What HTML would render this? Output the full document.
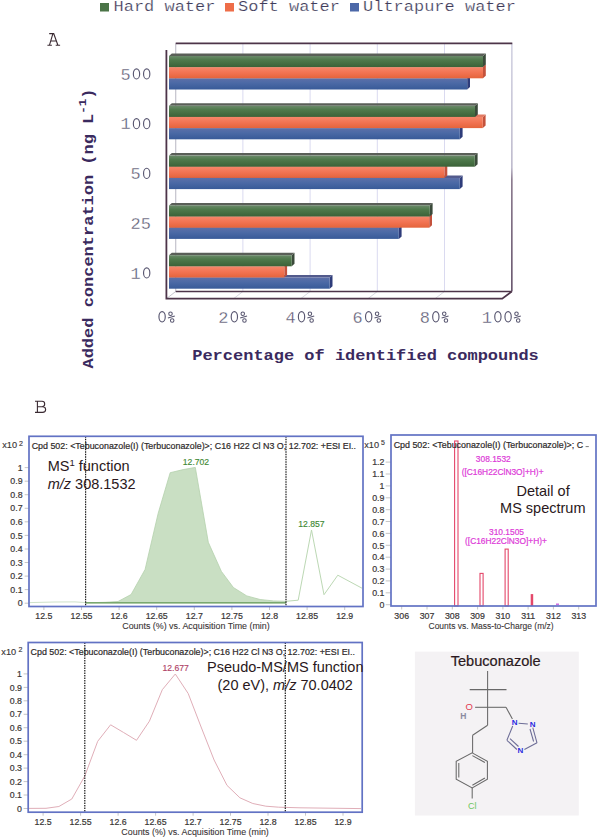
<!DOCTYPE html><html><head><meta charset="utf-8"><style>html,body{margin:0;padding:0;background:#fff;width:598px;height:837px;overflow:hidden}svg{display:block}</style></head><body>
<svg width="598" height="837" viewBox="0 0 598 837">
<defs>
<linearGradient id="gG" x1="0" y1="0" x2="0" y2="1"><stop offset="0" stop-color="#6b8a6a"/><stop offset="0.35" stop-color="#4f7a4c"/><stop offset="1" stop-color="#3b6238"/></linearGradient>
<linearGradient id="gO" x1="0" y1="0" x2="0" y2="1"><stop offset="0" stop-color="#f5876a"/><stop offset="0.5" stop-color="#f27352"/><stop offset="1" stop-color="#e4643c"/></linearGradient>
<linearGradient id="gB" x1="0" y1="0" x2="0" y2="1"><stop offset="0" stop-color="#5d6fa8"/><stop offset="0.4" stop-color="#4c6aa6"/><stop offset="1" stop-color="#385a98"/></linearGradient>
<linearGradient id="gR" x1="0" y1="0" x2="0" y2="1"><stop offset="0" stop-color="#cfcfe0"/><stop offset="0.5" stop-color="#b8b4c8"/><stop offset="0.55" stop-color="#806e84"/><stop offset="1" stop-color="#5a4660"/></linearGradient>
</defs>
<rect x="100" y="3" width="9" height="8.5" fill="#4b7447"/>
<rect x="225" y="3" width="9" height="8.5" fill="#ee6d48"/>
<rect x="350" y="3" width="9" height="8.5" fill="#4c68a8"/>
<text transform="translate(113.5,11.2) scale(1,0.88)" font-family="Liberation Mono, monospace" font-size="17" font-weight="normal" fill="#403c5a" text-anchor="start" stroke="#fff" stroke-width="0.25">Hard water</text>
<text transform="translate(238,11.2) scale(1,0.88)" font-family="Liberation Mono, monospace" font-size="17" font-weight="normal" fill="#403c5a" text-anchor="start" stroke="#fff" stroke-width="0.25">Soft water</text>
<text transform="translate(363,11.2) scale(1,0.88)" font-family="Liberation Mono, monospace" font-size="17" font-weight="normal" fill="#403c5a" text-anchor="start" stroke="#fff" stroke-width="0.25">Ultrapure water</text>
<path d="M49.2,33.6 H53.9 M52.9,33.6 L49.4,45.3 M53.6,33.2 L57.9,45.3 M50.6,41 H56.9 M47.4,45.3 H51.9 M55.7,45.3 H60.1" fill="none" stroke="#3a2a32" stroke-width="1.1"/>
<line x1="242.9" y1="43.4" x2="242.9" y2="291.5" stroke="#dadaf0" stroke-width="1"/>
<line x1="233.6" y1="298.7" x2="242.9" y2="291.5" stroke="#d8d8e0" stroke-width="1"/>
<line x1="310.1" y1="43.4" x2="310.1" y2="291.5" stroke="#dadaf0" stroke-width="1"/>
<line x1="300.7" y1="298.7" x2="310.1" y2="291.5" stroke="#d8d8e0" stroke-width="1"/>
<line x1="377.3" y1="43.4" x2="377.3" y2="291.5" stroke="#dadaf0" stroke-width="1"/>
<line x1="367.9" y1="298.7" x2="377.3" y2="291.5" stroke="#d8d8e0" stroke-width="1"/>
<line x1="444.5" y1="43.4" x2="444.5" y2="291.5" stroke="#dadaf0" stroke-width="1"/>
<line x1="435.0" y1="298.7" x2="444.5" y2="291.5" stroke="#d8d8e0" stroke-width="1"/>
<line x1="175.70000000000002" y1="43.4" x2="175.70000000000002" y2="291.5" stroke="#c4c2cc" stroke-width="1.2"/>
<line x1="166.4" y1="298.7" x2="175.70000000000002" y2="291.5" stroke="#c8c8d0" stroke-width="1"/>
<rect x="511.09999999999997" y="43.4" width="1.5" height="248.1" fill="url(#gR)"/>
<line x1="175.70000000000002" y1="43.4" x2="512.3" y2="43.4" stroke="#4d3449" stroke-width="1.6"/>
<line x1="175.70000000000002" y1="291.5" x2="511.7" y2="291.5" stroke="#4d3449" stroke-width="1.6"/>
<polyline points="166.4,50 166.4,298.7 502.2,298.7 511.7,291.5" fill="none" stroke="#4d3449" stroke-width="1.8"/>
<polygon points="467.2,78.3 470.0,75.8 470.0,87.0 467.2,89.5" fill="#2e3c7a"/>
<polygon points="169,78.3 171.8,75.8 470.0,75.8 467.2,78.3" fill="#525a8c"/>
<rect x="169" y="78.3" width="298.2" height="11.200000000000003" fill="url(#gB)"/>
<polygon points="483,67.1 485.8,64.6 485.8,75.8 483,78.3" fill="#c4523c"/>
<polygon points="169,67.1 171.8,64.6 485.8,64.6 483,67.1" fill="#e27a62"/>
<rect x="169" y="67.1" width="314" height="11.200000000000003" fill="url(#gO)"/>
<polygon points="483,56.0 485.8,53.5 485.8,64.6 483,67.1" fill="#3a4a3a"/>
<polygon points="169,56.0 171.8,53.5 485.8,53.5 483,56.0" fill="#5a5f58"/>
<rect x="169" y="56.0" width="314" height="11.099999999999994" fill="url(#gG)"/>
<polygon points="459.8,128.1 462.6,125.6 462.6,136.8 459.8,139.3" fill="#2e3c7a"/>
<polygon points="169,128.1 171.8,125.6 462.6,125.6 459.8,128.1" fill="#525a8c"/>
<rect x="169" y="128.1" width="290.8" height="11.200000000000017" fill="url(#gB)"/>
<polygon points="482.8,116.89999999999999 485.6,114.39999999999999 485.6,125.6 482.8,128.1" fill="#c4523c"/>
<polygon points="169,116.89999999999999 171.8,114.39999999999999 485.6,114.39999999999999 482.8,116.89999999999999" fill="#e27a62"/>
<rect x="169" y="116.89999999999999" width="313.8" height="11.200000000000003" fill="url(#gO)"/>
<polygon points="475,105.8 477.8,103.3 477.8,114.39999999999999 475,116.89999999999999" fill="#3a4a3a"/>
<polygon points="169,105.8 171.8,103.3 477.8,103.3 475,105.8" fill="#5a5f58"/>
<rect x="169" y="105.8" width="306" height="11.099999999999994" fill="url(#gG)"/>
<polygon points="459.8,177.9 462.6,175.4 462.6,186.6 459.8,189.1" fill="#2e3c7a"/>
<polygon points="169,177.9 171.8,175.4 462.6,175.4 459.8,177.9" fill="#525a8c"/>
<rect x="169" y="177.9" width="290.8" height="11.199999999999989" fill="url(#gB)"/>
<polygon points="444.5,166.7 447.3,164.2 447.3,175.4 444.5,177.9" fill="#c4523c"/>
<polygon points="169,166.7 171.8,164.2 447.3,164.2 444.5,166.7" fill="#e27a62"/>
<rect x="169" y="166.7" width="275.5" height="11.200000000000017" fill="url(#gO)"/>
<polygon points="474.8,155.6 477.6,153.1 477.6,164.2 474.8,166.7" fill="#3a4a3a"/>
<polygon points="169,155.6 171.8,153.1 477.6,153.1 474.8,155.6" fill="#5a5f58"/>
<rect x="169" y="155.6" width="305.8" height="11.099999999999994" fill="url(#gG)"/>
<polygon points="398.8,227.7 401.6,225.2 401.6,236.39999999999998 398.8,238.89999999999998" fill="#2e3c7a"/>
<polygon points="169,227.7 171.8,225.2 401.6,225.2 398.8,227.7" fill="#525a8c"/>
<rect x="169" y="227.7" width="229.8" height="11.199999999999989" fill="url(#gB)"/>
<polygon points="429.2,216.49999999999997 432.0,213.99999999999997 432.0,225.2 429.2,227.7" fill="#c4523c"/>
<polygon points="169,216.49999999999997 171.8,213.99999999999997 432.0,213.99999999999997 429.2,216.49999999999997" fill="#e27a62"/>
<rect x="169" y="216.49999999999997" width="260.2" height="11.200000000000017" fill="url(#gO)"/>
<polygon points="429.8,205.39999999999998 432.6,202.89999999999998 432.6,213.99999999999997 429.8,216.49999999999997" fill="#3a4a3a"/>
<polygon points="169,205.39999999999998 171.8,202.89999999999998 432.6,202.89999999999998 429.8,205.39999999999998" fill="#5a5f58"/>
<rect x="169" y="205.39999999999998" width="260.8" height="11.099999999999994" fill="url(#gG)"/>
<polygon points="329.7,277.5 332.5,275.0 332.5,286.2 329.7,288.7" fill="#2e3c7a"/>
<polygon points="169,277.5 171.8,275.0 332.5,275.0 329.7,277.5" fill="#525a8c"/>
<rect x="169" y="277.5" width="160.7" height="11.199999999999989" fill="url(#gB)"/>
<polygon points="284.3,266.3 287.1,263.8 287.1,275.0 284.3,277.5" fill="#c4523c"/>
<polygon points="169,266.3 171.8,263.8 287.1,263.8 284.3,266.3" fill="#e27a62"/>
<rect x="169" y="266.3" width="115.30000000000001" height="11.199999999999989" fill="url(#gO)"/>
<polygon points="291.7,255.2 294.5,252.7 294.5,263.8 291.7,266.3" fill="#3a4a3a"/>
<polygon points="169,255.2 171.8,252.7 294.5,252.7 291.7,255.2" fill="#5a5f58"/>
<rect x="169" y="255.2" width="122.69999999999999" height="11.100000000000023" fill="url(#gG)"/>
<text transform="translate(151.0,79.7) scale(1,0.97)" font-family="Liberation Mono, monospace" font-size="17" font-weight="normal" fill="#585670" text-anchor="end" stroke="#fff" stroke-width="0.3">5&#160;&#160;</text>
<ellipse cx="136.50" cy="73.90" rx="3.15" ry="5.10" fill="none" stroke="#585670" stroke-width="1.15"/>
<ellipse cx="146.70" cy="73.90" rx="3.15" ry="5.10" fill="none" stroke="#585670" stroke-width="1.15"/>
<text transform="translate(151.0,129.45) scale(1,0.97)" font-family="Liberation Mono, monospace" font-size="17" font-weight="normal" fill="#585670" text-anchor="end" stroke="#fff" stroke-width="0.3">1&#160;&#160;</text>
<ellipse cx="136.50" cy="123.65" rx="3.15" ry="5.10" fill="none" stroke="#585670" stroke-width="1.15"/>
<ellipse cx="146.70" cy="123.65" rx="3.15" ry="5.10" fill="none" stroke="#585670" stroke-width="1.15"/>
<text transform="translate(151.0,179.2) scale(1,0.97)" font-family="Liberation Mono, monospace" font-size="17" font-weight="normal" fill="#585670" text-anchor="end" stroke="#fff" stroke-width="0.3">5&#160;</text>
<ellipse cx="146.70" cy="173.40" rx="3.15" ry="5.10" fill="none" stroke="#585670" stroke-width="1.15"/>
<text transform="translate(151.0,228.95) scale(1,0.97)" font-family="Liberation Mono, monospace" font-size="17" font-weight="normal" fill="#585670" text-anchor="end" stroke="#fff" stroke-width="0.3">25</text>
<text transform="translate(151.0,278.7) scale(1,0.97)" font-family="Liberation Mono, monospace" font-size="17" font-weight="normal" fill="#585670" text-anchor="end" stroke="#fff" stroke-width="0.3">1&#160;</text>
<ellipse cx="146.70" cy="272.90" rx="3.15" ry="5.10" fill="none" stroke="#585670" stroke-width="1.15"/>
<text transform="translate(166.4,322.7) scale(1,1.02)" font-family="Liberation Mono, monospace" font-size="17" font-weight="normal" fill="#585670" text-anchor="middle" stroke="#fff" stroke-width="0.3">&#160;&#160;</text>
<ellipse cx="162.10" cy="316.80" rx="3.15" ry="5.20" fill="none" stroke="#585670" stroke-width="1.15"/>
<circle cx="170.50" cy="313.70" r="1.75" fill="none" stroke="#585670" stroke-width="1.05"/>
<circle cx="172.20" cy="320.50" r="1.75" fill="none" stroke="#585670" stroke-width="1.05"/>
<line x1="167.90" y1="318.10" x2="174.80" y2="316.10" stroke="#585670" stroke-width="1.05"/>
<text transform="translate(233.56,322.7) scale(1,1.02)" font-family="Liberation Mono, monospace" font-size="17" font-weight="normal" fill="#585670" text-anchor="middle" stroke="#fff" stroke-width="0.3">2&#160;&#160;</text>
<ellipse cx="234.36" cy="316.80" rx="3.15" ry="5.20" fill="none" stroke="#585670" stroke-width="1.15"/>
<circle cx="242.76" cy="313.70" r="1.75" fill="none" stroke="#585670" stroke-width="1.05"/>
<circle cx="244.46" cy="320.50" r="1.75" fill="none" stroke="#585670" stroke-width="1.05"/>
<line x1="240.16" y1="318.10" x2="247.06" y2="316.10" stroke="#585670" stroke-width="1.05"/>
<text transform="translate(300.72,322.7) scale(1,1.02)" font-family="Liberation Mono, monospace" font-size="17" font-weight="normal" fill="#585670" text-anchor="middle" stroke="#fff" stroke-width="0.3">4&#160;&#160;</text>
<ellipse cx="301.52" cy="316.80" rx="3.15" ry="5.20" fill="none" stroke="#585670" stroke-width="1.15"/>
<circle cx="309.92" cy="313.70" r="1.75" fill="none" stroke="#585670" stroke-width="1.05"/>
<circle cx="311.62" cy="320.50" r="1.75" fill="none" stroke="#585670" stroke-width="1.05"/>
<line x1="307.32" y1="318.10" x2="314.22" y2="316.10" stroke="#585670" stroke-width="1.05"/>
<text transform="translate(367.88,322.7) scale(1,1.02)" font-family="Liberation Mono, monospace" font-size="17" font-weight="normal" fill="#585670" text-anchor="middle" stroke="#fff" stroke-width="0.3">6&#160;&#160;</text>
<ellipse cx="368.68" cy="316.80" rx="3.15" ry="5.20" fill="none" stroke="#585670" stroke-width="1.15"/>
<circle cx="377.08" cy="313.70" r="1.75" fill="none" stroke="#585670" stroke-width="1.05"/>
<circle cx="378.78" cy="320.50" r="1.75" fill="none" stroke="#585670" stroke-width="1.05"/>
<line x1="374.48" y1="318.10" x2="381.38" y2="316.10" stroke="#585670" stroke-width="1.05"/>
<text transform="translate(435.03999999999996,322.7) scale(1,1.02)" font-family="Liberation Mono, monospace" font-size="17" font-weight="normal" fill="#585670" text-anchor="middle" stroke="#fff" stroke-width="0.3">8&#160;&#160;</text>
<ellipse cx="435.84" cy="316.80" rx="3.15" ry="5.20" fill="none" stroke="#585670" stroke-width="1.15"/>
<circle cx="444.24" cy="313.70" r="1.75" fill="none" stroke="#585670" stroke-width="1.05"/>
<circle cx="445.94" cy="320.50" r="1.75" fill="none" stroke="#585670" stroke-width="1.05"/>
<line x1="441.64" y1="318.10" x2="448.54" y2="316.10" stroke="#585670" stroke-width="1.05"/>
<text transform="translate(502.19999999999993,322.7) scale(1,1.02)" font-family="Liberation Mono, monospace" font-size="17" font-weight="normal" fill="#585670" text-anchor="middle" stroke="#fff" stroke-width="0.3">1&#160;&#160;&#160;</text>
<ellipse cx="497.90" cy="316.80" rx="3.15" ry="5.20" fill="none" stroke="#585670" stroke-width="1.15"/>
<ellipse cx="508.10" cy="316.80" rx="3.15" ry="5.20" fill="none" stroke="#585670" stroke-width="1.15"/>
<circle cx="516.50" cy="313.70" r="1.75" fill="none" stroke="#585670" stroke-width="1.05"/>
<circle cx="518.20" cy="320.50" r="1.75" fill="none" stroke="#585670" stroke-width="1.05"/>
<line x1="513.90" y1="318.10" x2="520.80" y2="316.10" stroke="#585670" stroke-width="1.05"/>
<text transform="translate(365.5,360.3) scale(1,0.88)" font-family="Liberation Mono, monospace" font-size="17" font-weight="bold" fill="#3a2a5e" text-anchor="middle">Percentage of identified compounds</text>
<text transform="translate(92.5,228.5) rotate(-90) scale(1,0.88)" font-family="Liberation Mono, monospace" font-size="17" font-weight="bold" fill="#3a2a5e" text-anchor="middle">Added concentration (ng L<tspan font-size="12.5" dy="-7">-1</tspan><tspan dy="7">)</tspan></text>
<path d="M35,401.3 H42 C45.6,401.3 45.6,406.7 42,406.7 M37.4,401.3 V412.4 M37.4,406.7 H42.5 C46.7,406.7 46.7,412.4 42.5,412.4 H35" fill="none" stroke="#3a2a32" stroke-width="1.1"/>
<line x1="24.7" y1="603.2" x2="29.0" y2="603.2" stroke="#b8b8b8" stroke-width="0.8"/>
<text x="22.6" y="606.4000000000001" font-family="Liberation Sans, sans-serif" font-size="8.8" fill="#3a3636" text-anchor="end" stroke="#3a3636" stroke-width="0.2" >0</text>
<line x1="24.7" y1="589.6" x2="29.0" y2="589.6" stroke="#b8b8b8" stroke-width="0.8"/>
<text x="22.6" y="592.8400000000001" font-family="Liberation Sans, sans-serif" font-size="8.8" fill="#3a3636" text-anchor="end" stroke="#3a3636" stroke-width="0.2" >0.1</text>
<line x1="24.7" y1="576.1" x2="29.0" y2="576.1" stroke="#b8b8b8" stroke-width="0.8"/>
<text x="22.6" y="579.2800000000001" font-family="Liberation Sans, sans-serif" font-size="8.8" fill="#3a3636" text-anchor="end" stroke="#3a3636" stroke-width="0.2" >0.2</text>
<line x1="24.7" y1="562.5" x2="29.0" y2="562.5" stroke="#b8b8b8" stroke-width="0.8"/>
<text x="22.6" y="565.7200000000001" font-family="Liberation Sans, sans-serif" font-size="8.8" fill="#3a3636" text-anchor="end" stroke="#3a3636" stroke-width="0.2" >0.3</text>
<line x1="24.7" y1="549.0" x2="29.0" y2="549.0" stroke="#b8b8b8" stroke-width="0.8"/>
<text x="22.6" y="552.1600000000001" font-family="Liberation Sans, sans-serif" font-size="8.8" fill="#3a3636" text-anchor="end" stroke="#3a3636" stroke-width="0.2" >0.4</text>
<line x1="24.7" y1="535.4" x2="29.0" y2="535.4" stroke="#b8b8b8" stroke-width="0.8"/>
<text x="22.6" y="538.6000000000001" font-family="Liberation Sans, sans-serif" font-size="8.8" fill="#3a3636" text-anchor="end" stroke="#3a3636" stroke-width="0.2" >0.5</text>
<line x1="24.7" y1="521.8" x2="29.0" y2="521.8" stroke="#b8b8b8" stroke-width="0.8"/>
<text x="22.6" y="525.0400000000001" font-family="Liberation Sans, sans-serif" font-size="8.8" fill="#3a3636" text-anchor="end" stroke="#3a3636" stroke-width="0.2" >0.6</text>
<line x1="24.7" y1="508.3" x2="29.0" y2="508.3" stroke="#b8b8b8" stroke-width="0.8"/>
<text x="22.6" y="511.4800000000001" font-family="Liberation Sans, sans-serif" font-size="8.8" fill="#3a3636" text-anchor="end" stroke="#3a3636" stroke-width="0.2" >0.7</text>
<line x1="24.7" y1="494.7" x2="29.0" y2="494.7" stroke="#b8b8b8" stroke-width="0.8"/>
<text x="22.6" y="497.92" font-family="Liberation Sans, sans-serif" font-size="8.8" fill="#3a3636" text-anchor="end" stroke="#3a3636" stroke-width="0.2" >0.8</text>
<line x1="24.7" y1="481.2" x2="29.0" y2="481.2" stroke="#b8b8b8" stroke-width="0.8"/>
<text x="22.6" y="484.36000000000007" font-family="Liberation Sans, sans-serif" font-size="8.8" fill="#3a3636" text-anchor="end" stroke="#3a3636" stroke-width="0.2" >0.9</text>
<line x1="24.7" y1="467.6" x2="29.0" y2="467.6" stroke="#b8b8b8" stroke-width="0.8"/>
<text x="22.6" y="470.8" font-family="Liberation Sans, sans-serif" font-size="8.8" fill="#3a3636" text-anchor="end" stroke="#3a3636" stroke-width="0.2" >1</text>
<line x1="43.9" y1="606.5" x2="43.9" y2="610.0" stroke="#b8b8b8" stroke-width="0.8"/>
<text x="43.9" y="619.2" font-family="Liberation Sans, sans-serif" font-size="8.8" fill="#3a3636" text-anchor="middle" stroke="#3a3636" stroke-width="0.2" >12.5</text>
<line x1="81.5" y1="606.5" x2="81.5" y2="610.0" stroke="#b8b8b8" stroke-width="0.8"/>
<text x="81.50000000000054" y="619.2" font-family="Liberation Sans, sans-serif" font-size="8.8" fill="#3a3636" text-anchor="middle" stroke="#3a3636" stroke-width="0.2" >12.55</text>
<line x1="119.1" y1="606.5" x2="119.1" y2="610.0" stroke="#b8b8b8" stroke-width="0.8"/>
<text x="119.09999999999974" y="619.2" font-family="Liberation Sans, sans-serif" font-size="8.8" fill="#3a3636" text-anchor="middle" stroke="#3a3636" stroke-width="0.2" >12.6</text>
<line x1="156.7" y1="606.5" x2="156.7" y2="610.0" stroke="#b8b8b8" stroke-width="0.8"/>
<text x="156.70000000000027" y="619.2" font-family="Liberation Sans, sans-serif" font-size="8.8" fill="#3a3636" text-anchor="middle" stroke="#3a3636" stroke-width="0.2" >12.65</text>
<line x1="194.3" y1="606.5" x2="194.3" y2="610.0" stroke="#b8b8b8" stroke-width="0.8"/>
<text x="194.29999999999947" y="619.2" font-family="Liberation Sans, sans-serif" font-size="8.8" fill="#3a3636" text-anchor="middle" stroke="#3a3636" stroke-width="0.2" >12.7</text>
<line x1="231.9" y1="606.5" x2="231.9" y2="610.0" stroke="#b8b8b8" stroke-width="0.8"/>
<text x="231.9" y="619.2" font-family="Liberation Sans, sans-serif" font-size="8.8" fill="#3a3636" text-anchor="middle" stroke="#3a3636" stroke-width="0.2" >12.75</text>
<line x1="269.5" y1="606.5" x2="269.5" y2="610.0" stroke="#b8b8b8" stroke-width="0.8"/>
<text x="269.5000000000005" y="619.2" font-family="Liberation Sans, sans-serif" font-size="8.8" fill="#3a3636" text-anchor="middle" stroke="#3a3636" stroke-width="0.2" >12.8</text>
<line x1="307.1" y1="606.5" x2="307.1" y2="610.0" stroke="#b8b8b8" stroke-width="0.8"/>
<text x="307.0999999999997" y="619.2" font-family="Liberation Sans, sans-serif" font-size="8.8" fill="#3a3636" text-anchor="middle" stroke="#3a3636" stroke-width="0.2" >12.85</text>
<line x1="344.7" y1="606.5" x2="344.7" y2="610.0" stroke="#b8b8b8" stroke-width="0.8"/>
<text x="344.7000000000003" y="619.2" font-family="Liberation Sans, sans-serif" font-size="8.8" fill="#3a3636" text-anchor="middle" stroke="#3a3636" stroke-width="0.2" >12.9</text>
<text x="196" y="629.2" font-family="Liberation Sans, sans-serif" font-size="8.9" fill="#3a3636" text-anchor="middle" stroke="#3a3636" stroke-width="0.1" >Counts (%) vs. Acquisition Time (min)</text>
<text x="2.2" y="448.4" font-family="Liberation Sans, sans-serif" font-size="9.2" fill="#3a3636" text-anchor="start" stroke="#3a3636" stroke-width="0.15" >x10</text>
<text x="19.0" y="445.8" font-family="Liberation Sans, sans-serif" font-size="7" fill="#3a3636" text-anchor="start" stroke="#3a3636" stroke-width="0.15" >2</text>
<polygon points="85.6,602.8 105,602.3 118,601.5 131.1,594.5 145.1,569.4 158.2,513.2 170.2,472.7 183.2,469.6 195.3,467.4 208.3,542.3 221.4,571.4 233.4,587.5 246.8,595.9 260.1,599.5 273.5,600.9 286,601.3 286,603 85.6,603" fill="#c9dfc3" stroke="#b4d0ac" stroke-width="0.8"/>
<polyline points="29.5,602.6 55,602.0 75,601.9 85.6,602.6" fill="none" stroke="#cfe2ca" stroke-width="1"/>
<line x1="85.6" y1="602.7" x2="286" y2="602.7" stroke="#7aa86f" stroke-width="1.6"/>
<polyline points="286,601.3 298.2,600.2 311.5,530 324,594.7 337.8,575.2 362,588.2" fill="none" stroke="#bcd8b4" stroke-width="1"/>
<text x="196" y="465.2" font-family="Liberation Sans, sans-serif" font-size="8.6" fill="#3f8a35" text-anchor="middle" stroke="#3f8a35" stroke-width="0.15" >12.702</text>
<text x="311.5" y="527.3" font-family="Liberation Sans, sans-serif" font-size="8.6" fill="#3f8a35" text-anchor="middle" stroke="#3f8a35" stroke-width="0.15" >12.857</text>
<line x1="85.6" y1="436.3" x2="85.6" y2="606.5" stroke="#1a1a1a" stroke-width="1.2" stroke-dasharray="1.5,1"/>
<line x1="286.0" y1="436.3" x2="286.0" y2="606.5" stroke="#1a1a1a" stroke-width="1.2" stroke-dasharray="1.5,1"/>
<text x="31.7" y="448.7" font-family="Liberation Sans, sans-serif" font-size="8.9" fill="#2e2a2a" text-anchor="start" stroke="#2e2a2a" stroke-width="0.2" >Cpd 502: &lt;Tebuconazole(I) (Terbuconazole)&gt;; C16 H22 Cl N3 O; 12.702: +ESI EI..</text>
<text x="47.7" y="471.4" font-family="Liberation Sans, sans-serif" font-size="14.5" fill="#2a1820" text-anchor="start" >MS<tspan font-size="9.5" dy="-5">1</tspan><tspan dy="5"> function</tspan></text>
<text x="47.7" y="489.0" font-family="Liberation Sans, sans-serif" font-size="14.5" fill="#2a1820" text-anchor="start" ><tspan font-style="italic">m/z</tspan> 308.1532</text>
<rect x="29.0" y="436.3" width="334.0" height="170.2" fill="none" stroke="#6272c4" stroke-width="1.7"/>
<line x1="385.7" y1="604.7" x2="391.0" y2="604.7" stroke="#b8b8b8" stroke-width="0.8"/>
<text x="384.4" y="607.9000000000001" font-family="Liberation Sans, sans-serif" font-size="8.8" fill="#3a3636" text-anchor="end" stroke="#3a3636" stroke-width="0.2" >0</text>
<line x1="385.7" y1="592.8" x2="391.0" y2="592.8" stroke="#b8b8b8" stroke-width="0.8"/>
<text x="384.4" y="596.0200000000001" font-family="Liberation Sans, sans-serif" font-size="8.8" fill="#3a3636" text-anchor="end" stroke="#3a3636" stroke-width="0.2" >0.1</text>
<line x1="385.7" y1="580.9" x2="391.0" y2="580.9" stroke="#b8b8b8" stroke-width="0.8"/>
<text x="384.4" y="584.1400000000001" font-family="Liberation Sans, sans-serif" font-size="8.8" fill="#3a3636" text-anchor="end" stroke="#3a3636" stroke-width="0.2" >0.2</text>
<line x1="385.7" y1="569.1" x2="391.0" y2="569.1" stroke="#b8b8b8" stroke-width="0.8"/>
<text x="384.4" y="572.2600000000001" font-family="Liberation Sans, sans-serif" font-size="8.8" fill="#3a3636" text-anchor="end" stroke="#3a3636" stroke-width="0.2" >0.3</text>
<line x1="385.7" y1="557.2" x2="391.0" y2="557.2" stroke="#b8b8b8" stroke-width="0.8"/>
<text x="384.4" y="560.3800000000001" font-family="Liberation Sans, sans-serif" font-size="8.8" fill="#3a3636" text-anchor="end" stroke="#3a3636" stroke-width="0.2" >0.4</text>
<line x1="385.7" y1="545.3" x2="391.0" y2="545.3" stroke="#b8b8b8" stroke-width="0.8"/>
<text x="384.4" y="548.5000000000001" font-family="Liberation Sans, sans-serif" font-size="8.8" fill="#3a3636" text-anchor="end" stroke="#3a3636" stroke-width="0.2" >0.5</text>
<line x1="385.7" y1="533.4" x2="391.0" y2="533.4" stroke="#b8b8b8" stroke-width="0.8"/>
<text x="384.4" y="536.6200000000001" font-family="Liberation Sans, sans-serif" font-size="8.8" fill="#3a3636" text-anchor="end" stroke="#3a3636" stroke-width="0.2" >0.6</text>
<line x1="385.7" y1="521.5" x2="391.0" y2="521.5" stroke="#b8b8b8" stroke-width="0.8"/>
<text x="384.4" y="524.7400000000001" font-family="Liberation Sans, sans-serif" font-size="8.8" fill="#3a3636" text-anchor="end" stroke="#3a3636" stroke-width="0.2" >0.7</text>
<line x1="385.7" y1="509.7" x2="391.0" y2="509.7" stroke="#b8b8b8" stroke-width="0.8"/>
<text x="384.4" y="512.86" font-family="Liberation Sans, sans-serif" font-size="8.8" fill="#3a3636" text-anchor="end" stroke="#3a3636" stroke-width="0.2" >0.8</text>
<line x1="385.7" y1="497.8" x2="391.0" y2="497.8" stroke="#b8b8b8" stroke-width="0.8"/>
<text x="384.4" y="500.98" font-family="Liberation Sans, sans-serif" font-size="8.8" fill="#3a3636" text-anchor="end" stroke="#3a3636" stroke-width="0.2" >0.9</text>
<line x1="385.7" y1="485.9" x2="391.0" y2="485.9" stroke="#b8b8b8" stroke-width="0.8"/>
<text x="384.4" y="489.1" font-family="Liberation Sans, sans-serif" font-size="8.8" fill="#3a3636" text-anchor="end" stroke="#3a3636" stroke-width="0.2" >1</text>
<line x1="385.7" y1="474.0" x2="391.0" y2="474.0" stroke="#b8b8b8" stroke-width="0.8"/>
<text x="384.4" y="477.22" font-family="Liberation Sans, sans-serif" font-size="8.8" fill="#3a3636" text-anchor="end" stroke="#3a3636" stroke-width="0.2" >1.1</text>
<line x1="385.7" y1="462.1" x2="391.0" y2="462.1" stroke="#b8b8b8" stroke-width="0.8"/>
<text x="384.4" y="465.34000000000003" font-family="Liberation Sans, sans-serif" font-size="8.8" fill="#3a3636" text-anchor="end" stroke="#3a3636" stroke-width="0.2" >1.2</text>
<line x1="401.7" y1="606.0" x2="401.7" y2="609.5" stroke="#b8b8b8" stroke-width="0.8"/>
<text x="401.7" y="619.0" font-family="Liberation Sans, sans-serif" font-size="8.8" fill="#3a3636" text-anchor="middle" stroke="#3a3636" stroke-width="0.2" >306</text>
<line x1="427.0" y1="606.0" x2="427.0" y2="609.5" stroke="#b8b8b8" stroke-width="0.8"/>
<text x="426.99" y="619.0" font-family="Liberation Sans, sans-serif" font-size="8.8" fill="#3a3636" text-anchor="middle" stroke="#3a3636" stroke-width="0.2" >307</text>
<line x1="452.3" y1="606.0" x2="452.3" y2="609.5" stroke="#b8b8b8" stroke-width="0.8"/>
<text x="452.28" y="619.0" font-family="Liberation Sans, sans-serif" font-size="8.8" fill="#3a3636" text-anchor="middle" stroke="#3a3636" stroke-width="0.2" >308</text>
<line x1="477.6" y1="606.0" x2="477.6" y2="609.5" stroke="#b8b8b8" stroke-width="0.8"/>
<text x="477.57" y="619.0" font-family="Liberation Sans, sans-serif" font-size="8.8" fill="#3a3636" text-anchor="middle" stroke="#3a3636" stroke-width="0.2" >309</text>
<line x1="502.9" y1="606.0" x2="502.9" y2="609.5" stroke="#b8b8b8" stroke-width="0.8"/>
<text x="502.86" y="619.0" font-family="Liberation Sans, sans-serif" font-size="8.8" fill="#3a3636" text-anchor="middle" stroke="#3a3636" stroke-width="0.2" >310</text>
<line x1="528.1" y1="606.0" x2="528.1" y2="609.5" stroke="#b8b8b8" stroke-width="0.8"/>
<text x="528.15" y="619.0" font-family="Liberation Sans, sans-serif" font-size="8.8" fill="#3a3636" text-anchor="middle" stroke="#3a3636" stroke-width="0.2" >311</text>
<line x1="553.4" y1="606.0" x2="553.4" y2="609.5" stroke="#b8b8b8" stroke-width="0.8"/>
<text x="553.44" y="619.0" font-family="Liberation Sans, sans-serif" font-size="8.8" fill="#3a3636" text-anchor="middle" stroke="#3a3636" stroke-width="0.2" >312</text>
<line x1="578.7" y1="606.0" x2="578.7" y2="609.5" stroke="#b8b8b8" stroke-width="0.8"/>
<text x="578.73" y="619.0" font-family="Liberation Sans, sans-serif" font-size="8.8" fill="#3a3636" text-anchor="middle" stroke="#3a3636" stroke-width="0.2" >313</text>
<text x="491.1" y="629.3" font-family="Liberation Sans, sans-serif" font-size="8.5" fill="#3a3636" text-anchor="middle" stroke="#3a3636" stroke-width="0.1" >Counts vs. Mass-to-Charge (m/z)</text>
<text x="364.2" y="448.0" font-family="Liberation Sans, sans-serif" font-size="9.2" fill="#3a3636" text-anchor="start" stroke="#3a3636" stroke-width="0.15" >x10</text>
<text x="381.0" y="445.4" font-family="Liberation Sans, sans-serif" font-size="7" fill="#3a3636" text-anchor="start" stroke="#3a3636" stroke-width="0.15" >5</text>
<rect x="454.6" y="441.0" width="3.3999999999999773" height="165.0" fill="#fff" stroke="#e4486a" stroke-width="1.1"/>
<rect x="480.0" y="573.4" width="3.1000000000000227" height="32.60000000000002" fill="#fff" stroke="#e4486a" stroke-width="1.1"/>
<rect x="505.1" y="549.1" width="3.099999999999966" height="56.89999999999998" fill="#fff" stroke="#e4486a" stroke-width="1.1"/>
<rect x="530.7" y="594.1" width="2.5" height="11.899999999999977" fill="#e4486a"/>
<rect x="556" y="603.5" width="3" height="1.5" fill="#d070e0"/>
<text x="493.3" y="461.9" font-family="Liberation Sans, sans-serif" font-size="8.4" fill="#dd3ad8" text-anchor="middle" stroke="#dd3ad8" stroke-width="0.2" >308.1532</text>
<text x="502.6" y="475.0" font-family="Liberation Sans, sans-serif" font-size="8.4" fill="#dd3ad8" text-anchor="middle" stroke="#dd3ad8" stroke-width="0.2" >([C16H22ClN3O]+H)+</text>
<text x="506.5" y="535.0" font-family="Liberation Sans, sans-serif" font-size="8.4" fill="#dd3ad8" text-anchor="middle" stroke="#dd3ad8" stroke-width="0.2" >310.1505</text>
<text x="506.0" y="544.1" font-family="Liberation Sans, sans-serif" font-size="8.4" fill="#dd3ad8" text-anchor="middle" stroke="#dd3ad8" stroke-width="0.2" >([C16H22ClN3O]+H)+</text>
<text x="543.1" y="496.1" font-family="Liberation Sans, sans-serif" font-size="14.5" fill="#2a1820" text-anchor="middle" >Detail of</text>
<text x="542.8" y="513.2" font-family="Liberation Sans, sans-serif" font-size="14.5" fill="#2a1820" text-anchor="middle" >MS spectrum</text>
<text x="393.7" y="448.0" font-family="Liberation Sans, sans-serif" font-size="8.9" fill="#2e2a2a" text-anchor="start" stroke="#2e2a2a" stroke-width="0.2" >Cpd 502: &lt;Tebuconazole(I) (Terbuconazole)&gt;; C</text>
<line x1="585.6" y1="446.6" x2="588.8" y2="446.6" stroke="#555" stroke-width="0.8"/>
<rect x="391.0" y="435.0" width="205.0" height="171.0" fill="none" stroke="#6272c4" stroke-width="1.7"/>
<line x1="23.6" y1="808.5" x2="28.2" y2="808.5" stroke="#b8b8b8" stroke-width="0.8"/>
<text x="22.0" y="811.7" font-family="Liberation Sans, sans-serif" font-size="8.8" fill="#3a3636" text-anchor="end" stroke="#3a3636" stroke-width="0.2" >0</text>
<line x1="23.6" y1="795.0" x2="28.2" y2="795.0" stroke="#b8b8b8" stroke-width="0.8"/>
<text x="22.0" y="798.24" font-family="Liberation Sans, sans-serif" font-size="8.8" fill="#3a3636" text-anchor="end" stroke="#3a3636" stroke-width="0.2" >0.1</text>
<line x1="23.6" y1="781.6" x2="28.2" y2="781.6" stroke="#b8b8b8" stroke-width="0.8"/>
<text x="22.0" y="784.7800000000001" font-family="Liberation Sans, sans-serif" font-size="8.8" fill="#3a3636" text-anchor="end" stroke="#3a3636" stroke-width="0.2" >0.2</text>
<line x1="23.6" y1="768.1" x2="28.2" y2="768.1" stroke="#b8b8b8" stroke-width="0.8"/>
<text x="22.0" y="771.32" font-family="Liberation Sans, sans-serif" font-size="8.8" fill="#3a3636" text-anchor="end" stroke="#3a3636" stroke-width="0.2" >0.3</text>
<line x1="23.6" y1="754.7" x2="28.2" y2="754.7" stroke="#b8b8b8" stroke-width="0.8"/>
<text x="22.0" y="757.86" font-family="Liberation Sans, sans-serif" font-size="8.8" fill="#3a3636" text-anchor="end" stroke="#3a3636" stroke-width="0.2" >0.4</text>
<line x1="23.6" y1="741.2" x2="28.2" y2="741.2" stroke="#b8b8b8" stroke-width="0.8"/>
<text x="22.0" y="744.4000000000001" font-family="Liberation Sans, sans-serif" font-size="8.8" fill="#3a3636" text-anchor="end" stroke="#3a3636" stroke-width="0.2" >0.5</text>
<line x1="23.6" y1="727.7" x2="28.2" y2="727.7" stroke="#b8b8b8" stroke-width="0.8"/>
<text x="22.0" y="730.94" font-family="Liberation Sans, sans-serif" font-size="8.8" fill="#3a3636" text-anchor="end" stroke="#3a3636" stroke-width="0.2" >0.6</text>
<line x1="23.6" y1="714.3" x2="28.2" y2="714.3" stroke="#b8b8b8" stroke-width="0.8"/>
<text x="22.0" y="717.48" font-family="Liberation Sans, sans-serif" font-size="8.8" fill="#3a3636" text-anchor="end" stroke="#3a3636" stroke-width="0.2" >0.7</text>
<line x1="23.6" y1="700.8" x2="28.2" y2="700.8" stroke="#b8b8b8" stroke-width="0.8"/>
<text x="22.0" y="704.02" font-family="Liberation Sans, sans-serif" font-size="8.8" fill="#3a3636" text-anchor="end" stroke="#3a3636" stroke-width="0.2" >0.8</text>
<line x1="23.6" y1="687.4" x2="28.2" y2="687.4" stroke="#b8b8b8" stroke-width="0.8"/>
<text x="22.0" y="690.5600000000001" font-family="Liberation Sans, sans-serif" font-size="8.8" fill="#3a3636" text-anchor="end" stroke="#3a3636" stroke-width="0.2" >0.9</text>
<line x1="23.6" y1="673.9" x2="28.2" y2="673.9" stroke="#b8b8b8" stroke-width="0.8"/>
<text x="22.0" y="677.1" font-family="Liberation Sans, sans-serif" font-size="8.8" fill="#3a3636" text-anchor="end" stroke="#3a3636" stroke-width="0.2" >1</text>
<line x1="43.1" y1="812.2" x2="43.1" y2="815.7" stroke="#b8b8b8" stroke-width="0.8"/>
<text x="43.1" y="824.9" font-family="Liberation Sans, sans-serif" font-size="8.8" fill="#3a3636" text-anchor="middle" stroke="#3a3636" stroke-width="0.2" >12.5</text>
<line x1="80.6" y1="812.2" x2="80.6" y2="815.7" stroke="#b8b8b8" stroke-width="0.8"/>
<text x="80.59000000000053" y="824.9" font-family="Liberation Sans, sans-serif" font-size="8.8" fill="#3a3636" text-anchor="middle" stroke="#3a3636" stroke-width="0.2" >12.55</text>
<line x1="118.1" y1="812.2" x2="118.1" y2="815.7" stroke="#b8b8b8" stroke-width="0.8"/>
<text x="118.07999999999973" y="824.9" font-family="Liberation Sans, sans-serif" font-size="8.8" fill="#3a3636" text-anchor="middle" stroke="#3a3636" stroke-width="0.2" >12.6</text>
<line x1="155.6" y1="812.2" x2="155.6" y2="815.7" stroke="#b8b8b8" stroke-width="0.8"/>
<text x="155.57000000000025" y="824.9" font-family="Liberation Sans, sans-serif" font-size="8.8" fill="#3a3636" text-anchor="middle" stroke="#3a3636" stroke-width="0.2" >12.65</text>
<line x1="193.1" y1="812.2" x2="193.1" y2="815.7" stroke="#b8b8b8" stroke-width="0.8"/>
<text x="193.05999999999946" y="824.9" font-family="Liberation Sans, sans-serif" font-size="8.8" fill="#3a3636" text-anchor="middle" stroke="#3a3636" stroke-width="0.2" >12.7</text>
<line x1="230.5" y1="812.2" x2="230.5" y2="815.7" stroke="#b8b8b8" stroke-width="0.8"/>
<text x="230.54999999999998" y="824.9" font-family="Liberation Sans, sans-serif" font-size="8.8" fill="#3a3636" text-anchor="middle" stroke="#3a3636" stroke-width="0.2" >12.75</text>
<line x1="268.0" y1="812.2" x2="268.0" y2="815.7" stroke="#b8b8b8" stroke-width="0.8"/>
<text x="268.04000000000053" y="824.9" font-family="Liberation Sans, sans-serif" font-size="8.8" fill="#3a3636" text-anchor="middle" stroke="#3a3636" stroke-width="0.2" >12.8</text>
<line x1="305.5" y1="812.2" x2="305.5" y2="815.7" stroke="#b8b8b8" stroke-width="0.8"/>
<text x="305.52999999999975" y="824.9" font-family="Liberation Sans, sans-serif" font-size="8.8" fill="#3a3636" text-anchor="middle" stroke="#3a3636" stroke-width="0.2" >12.85</text>
<line x1="343.0" y1="812.2" x2="343.0" y2="815.7" stroke="#b8b8b8" stroke-width="0.8"/>
<text x="343.02000000000027" y="824.9" font-family="Liberation Sans, sans-serif" font-size="8.8" fill="#3a3636" text-anchor="middle" stroke="#3a3636" stroke-width="0.2" >12.9</text>
<text x="195.1" y="834.5" font-family="Liberation Sans, sans-serif" font-size="8.9" fill="#3a3636" text-anchor="middle" stroke="#3a3636" stroke-width="0.1" >Counts (%) vs. Acquisition Time (min)</text>
<text x="1.3" y="655.0" font-family="Liberation Sans, sans-serif" font-size="9.2" fill="#3a3636" text-anchor="start" stroke="#3a3636" stroke-width="0.15" >x10</text>
<text x="18.5" y="651.8" font-family="Liberation Sans, sans-serif" font-size="7" fill="#3a3636" text-anchor="start" stroke="#3a3636" stroke-width="0.15" >2</text>
<polyline points="28.5,808.4 46,808.3 58.9,806.5 71.8,799 84.8,776 97.7,741.3 110.6,724.8 123.6,732.5 136.5,740.3 149.4,721.2 162.3,689.7 175.3,674 188.2,693.5 201.1,727 214.1,760 227,785.4 239.9,797.8 252.8,803.5 265.8,806.2 278.7,807.2 300,807.8 361,808.6" fill="none" stroke="#e0aeb8" stroke-width="1.0"/>
<text x="175.6" y="671.4" font-family="Liberation Sans, sans-serif" font-size="8.6" fill="#b04468" text-anchor="middle" stroke="#b04468" stroke-width="0.15" >12.677</text>
<line x1="84.8" y1="642.5" x2="84.8" y2="812.2" stroke="#1a1a1a" stroke-width="1.2" stroke-dasharray="1.5,1"/>
<line x1="285.3" y1="642.5" x2="285.3" y2="812.2" stroke="#1a1a1a" stroke-width="1.2" stroke-dasharray="1.5,1"/>
<text x="30.6" y="654.6" font-family="Liberation Sans, sans-serif" font-size="8.9" fill="#2e2a2a" text-anchor="start" stroke="#2e2a2a" stroke-width="0.2" >Cpd 502: &lt;Tebuconazole(I) (Terbuconazole)&gt;; C16 H22 Cl N3 O; 12.702: +ESI EI..</text>
<rect x="28.2" y="642.5" width="334.0" height="169.70000000000005" fill="none" stroke="#6272c4" stroke-width="1.7"/>
<text x="285.3" y="671.7" font-family="Liberation Sans, sans-serif" font-size="14.5" fill="#2a1820" text-anchor="middle" >Pseudo-MS/MS function</text>
<text x="285.2" y="689.5" font-family="Liberation Sans, sans-serif" font-size="14.5" fill="#2a1820" text-anchor="middle" >(20 eV), <tspan font-style="italic">m/z</tspan> 70.0402</text>
<rect x="414.9" y="651.6" width="163.9" height="163.9" fill="#f4f2f4"/>
<text x="495.7" y="665.8" font-family="Liberation Sans, sans-serif" font-size="14.6" fill="#2a1820" text-anchor="middle" stroke="#2a1820" stroke-width="0.2" >Tebuconazole</text>
<line x1="487.6" y1="670.9" x2="487.6" y2="725.2" stroke="#686868" stroke-width="1.05"/>
<line x1="469.7" y1="689.6" x2="506.5" y2="689.6" stroke="#686868" stroke-width="1.05"/>
<line x1="475.1" y1="707.3" x2="506" y2="707.3" stroke="#686868" stroke-width="1.05"/>
<line x1="506" y1="707.3" x2="512.4" y2="719.0" stroke="#686868" stroke-width="1.05"/>
<line x1="487.6" y1="725.2" x2="472.6" y2="735.3" stroke="#686868" stroke-width="1.05"/>
<line x1="472.6" y1="735.3" x2="472.6" y2="752.9" stroke="#686868" stroke-width="1.05"/>
<polygon points="472.2,752.9 487.4,761.3 487.4,779.2 472.2,788 456.2,779.2 456.2,761.3" fill="none" stroke="#686868" stroke-width="1.05"/>
<line x1="472.4" y1="755.6" x2="484.9" y2="762.5" stroke="#686868" stroke-width="1.05"/>
<line x1="484.9" y1="778.0" x2="472.4" y2="785.3" stroke="#686868" stroke-width="1.05"/>
<line x1="458.8" y1="763.0" x2="458.8" y2="777.6" stroke="#686868" stroke-width="1.05"/>
<line x1="472.2" y1="788" x2="472.2" y2="798.5" stroke="#686868" stroke-width="1.05"/>
<text x="472.2" y="809.4" font-family="Liberation Sans, sans-serif" font-size="9" fill="#6cc660" text-anchor="middle" font-family="Liberation Serif, serif">Cl</text>
<text x="469.2" y="709.8" font-family="Liberation Sans, sans-serif" font-size="9.5" fill="#e23a52" text-anchor="middle" >O</text>
<text x="463.4" y="719.1" font-family="Liberation Sans, sans-serif" font-size="8.5" fill="#8a8aa0" text-anchor="middle" font-weight="bold">H</text>
<line x1="518.6" y1="723.2" x2="527.8" y2="724.0" stroke="#6c6c96" stroke-width="1.05"/>
<line x1="532.8" y1="727.7" x2="537.0" y2="742.8" stroke="#6c6c96" stroke-width="1.05"/>
<line x1="530.0" y1="729.0" x2="533.6" y2="741.5" stroke="#6c6c96" stroke-width="1.05"/>
<line x1="537.0" y1="742.8" x2="524.4" y2="749.5" stroke="#6c6c96" stroke-width="1.05"/>
<line x1="516.9" y1="749.5" x2="506.9" y2="740.3" stroke="#6c6c96" stroke-width="1.05"/>
<line x1="518.5" y1="746.5" x2="510.0" y2="738.7" stroke="#6c6c96" stroke-width="1.05"/>
<line x1="506.9" y1="740.3" x2="512.7" y2="726.0" stroke="#6c6c96" stroke-width="1.05"/>
<text x="514.7" y="725.2" font-family="Liberation Sans, sans-serif" font-size="8" fill="#2a2ae0" text-anchor="middle" font-weight="bold">N</text>
<text x="532.7" y="726.7" font-family="Liberation Sans, sans-serif" font-size="8" fill="#2a2ae0" text-anchor="middle" font-weight="bold">N</text>
<text x="520.3" y="753.0" font-family="Liberation Sans, sans-serif" font-size="8" fill="#2a2ae0" text-anchor="middle" font-weight="bold">N</text>
</svg></body></html>
